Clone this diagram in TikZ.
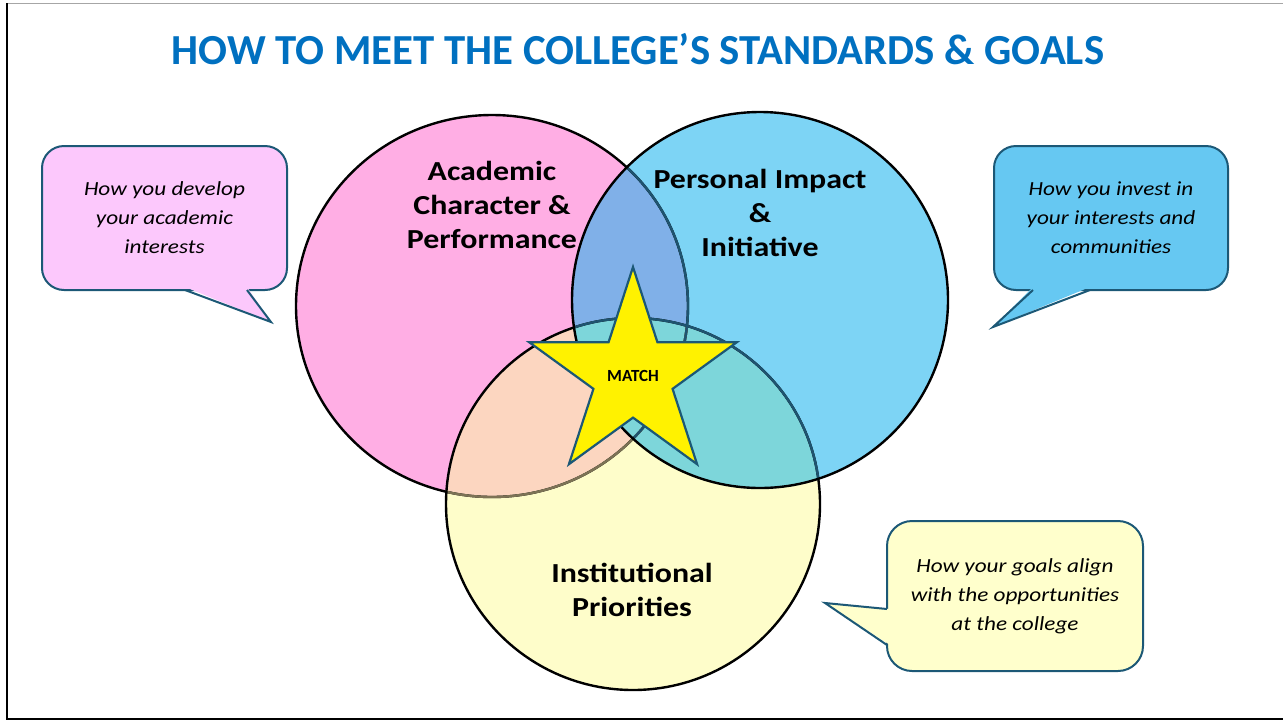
\documentclass[tikz,border=0pt]{standalone}
\usepackage{fontspec}
\setmainfont{Carlito}
\newfontfamily\widefont[FakeStretch=1.16]{Carlito}
\usepackage{tikz}
\usetikzlibrary{shapes.geometric, positioning}
\definecolor{titleblue}{HTML}{0070C0}
\definecolor{edgeblue}{RGB}{28,88,118}
\definecolor{pinkset}{RGB}{255,174,228}
\definecolor{blueset}{RGB}{125,212,245}
\definecolor{yellowset}{RGB}{254,253,202}
\definecolor{pinkblue}{RGB}{128,176,232}
\definecolor{pinkyellow}{RGB}{252,214,192}
\definecolor{blueyellow}{RGB}{125,214,218}
\definecolor{allthree}{RGB}{118,188,216}
\definecolor{dimteal}{RGB}{30,84,112}
\definecolor{dimbrown}{RGB}{125,115,85}
\definecolor{pinkbubble}{RGB}{252,200,252}
\definecolor{bluebubble}{RGB}{102,200,242}
\definecolor{yellowbubble}{RGB}{255,255,204}

\begin{document}
\begin{tikzpicture}[x=1pt,y=-1pt,
  ring/.style={line width=2.4pt},
  bubble/.style={draw=edgeblue, line width=2pt, rounded corners=22pt, align=center,
    font=\widefont\itshape\fontsize{20}{29}\selectfont},
  tail/.style={draw=edgeblue, line width=2pt, line join=miter},
  setname/.style={font=\widefont\bfseries\fontsize{27.5}{34}\selectfont, align=center}]
\useasboundingbox (0,0) rectangle (1283,721);

% frame
\draw[gray!70, line width=1.2pt] (7,3.5) -- (1283,3.5);
\draw[line width=2.2pt] (7,3) -- (7,719) -- (1283,719);

% title
\node[font=\bfseries\fontsize{42.8}{50}\selectfont, text=titleblue] (title) at (638,49) {HOW TO MEET THE COLLEGE’S STANDARDS \& GOALS};

% the three sets and their overlaps
\fill[pinkset] (492,306) ellipse [x radius=196, y radius=191];
\fill[yellowset] (633,504) ellipse [x radius=187, y radius=186];
\fill[blueset] (760,300) circle [radius=188];
\begin{scope}
  \clip (492,306) ellipse [x radius=196, y radius=191];
  \fill[pinkyellow] (633,504) ellipse [x radius=187, y radius=186];
  \fill[pinkblue] (760,300) circle [radius=188];
  \clip (760,300) circle [radius=188];
  \fill[allthree] (633,504) ellipse [x radius=187, y radius=186];
\end{scope}
\begin{scope}
  \clip (760,300) circle [radius=188];
  \fill[blueyellow] (633,504) ellipse [x radius=187, y radius=186];
\end{scope}

% outlines
\draw[ring] (492,306) ellipse [x radius=196, y radius=191];
\begin{scope}
  \clip (633,504) ellipse [x radius=187, y radius=186];
  \draw[ring, dimbrown] (492,306) ellipse [x radius=196, y radius=191];
\end{scope}
\draw[ring] (633,504) ellipse [x radius=187, y radius=186];
\begin{scope}
  \clip (760,300) circle [radius=188];
  \draw[ring, dimteal] (492,306) ellipse [x radius=196, y radius=191];
  \draw[ring, dimteal] (633,504) ellipse [x radius=187, y radius=186];
\end{scope}
\draw[ring] (760,300) circle [radius=188];

\node[setname] (academic) at (492,205) {Academic\\Character \&\\Performance};
\node[setname] (personal) at (760,213) {Personal Impact\\\&\\Initiative};
\node[setname] (institutional) at (632,590) {Institutional\\Priorities};

\node[star, star points=5, star point ratio=2.62, minimum size=218pt, inner sep=0pt,
  fill=yellow, draw=edgeblue, line width=2.2pt,
  font=\bfseries\fontsize{17}{19}\selectfont] (match) at (633,376) {MATCH};

% callouts
\node[bubble, fill=pinkbubble, minimum width=245pt, minimum height=144pt] (develop) at (164.5,218) {How you develop\\your academic\\interests};
\coordinate (devA) at (185,290);
\coordinate (devB) at (247,290);
\coordinate (devtip) at (271,322);
\fill[pinkbubble] ([yshift=3pt]devA) -- (devtip) -- ([yshift=3pt]devB) -- cycle;
\draw[tail] (devA) -- (devtip) -- (devB);

\node[bubble, fill=bluebubble, minimum width=234pt, minimum height=144pt] (invest) at (1111,218) {How you invest in\\your interests and\\communities};
\coordinate (invA) at (1090,290);
\coordinate (invB) at (1033,290);
\coordinate (invtip) at (993,327);
\fill[bluebubble] ([yshift=3pt]invA) -- (invtip) -- ([yshift=3pt]invB) -- cycle;
\draw[tail] (invA) -- (invtip) -- (invB);

\node[bubble, fill=yellowbubble, minimum width=256pt, minimum height=150pt, rounded corners=25pt] (align) at (1015,596) {How your goals align\\with the opportunities\\at the college};
\coordinate (aliA) at (887,609);
\coordinate (aliB) at (887,645);
\coordinate (alitip) at (825,603);
\fill[yellowbubble] ([xshift=3pt]aliA) -- (alitip) -- ([xshift=3pt]aliB) -- cycle;
\draw[tail] (aliA) -- (alitip) -- (aliB);
\end{tikzpicture}
\end{document}
